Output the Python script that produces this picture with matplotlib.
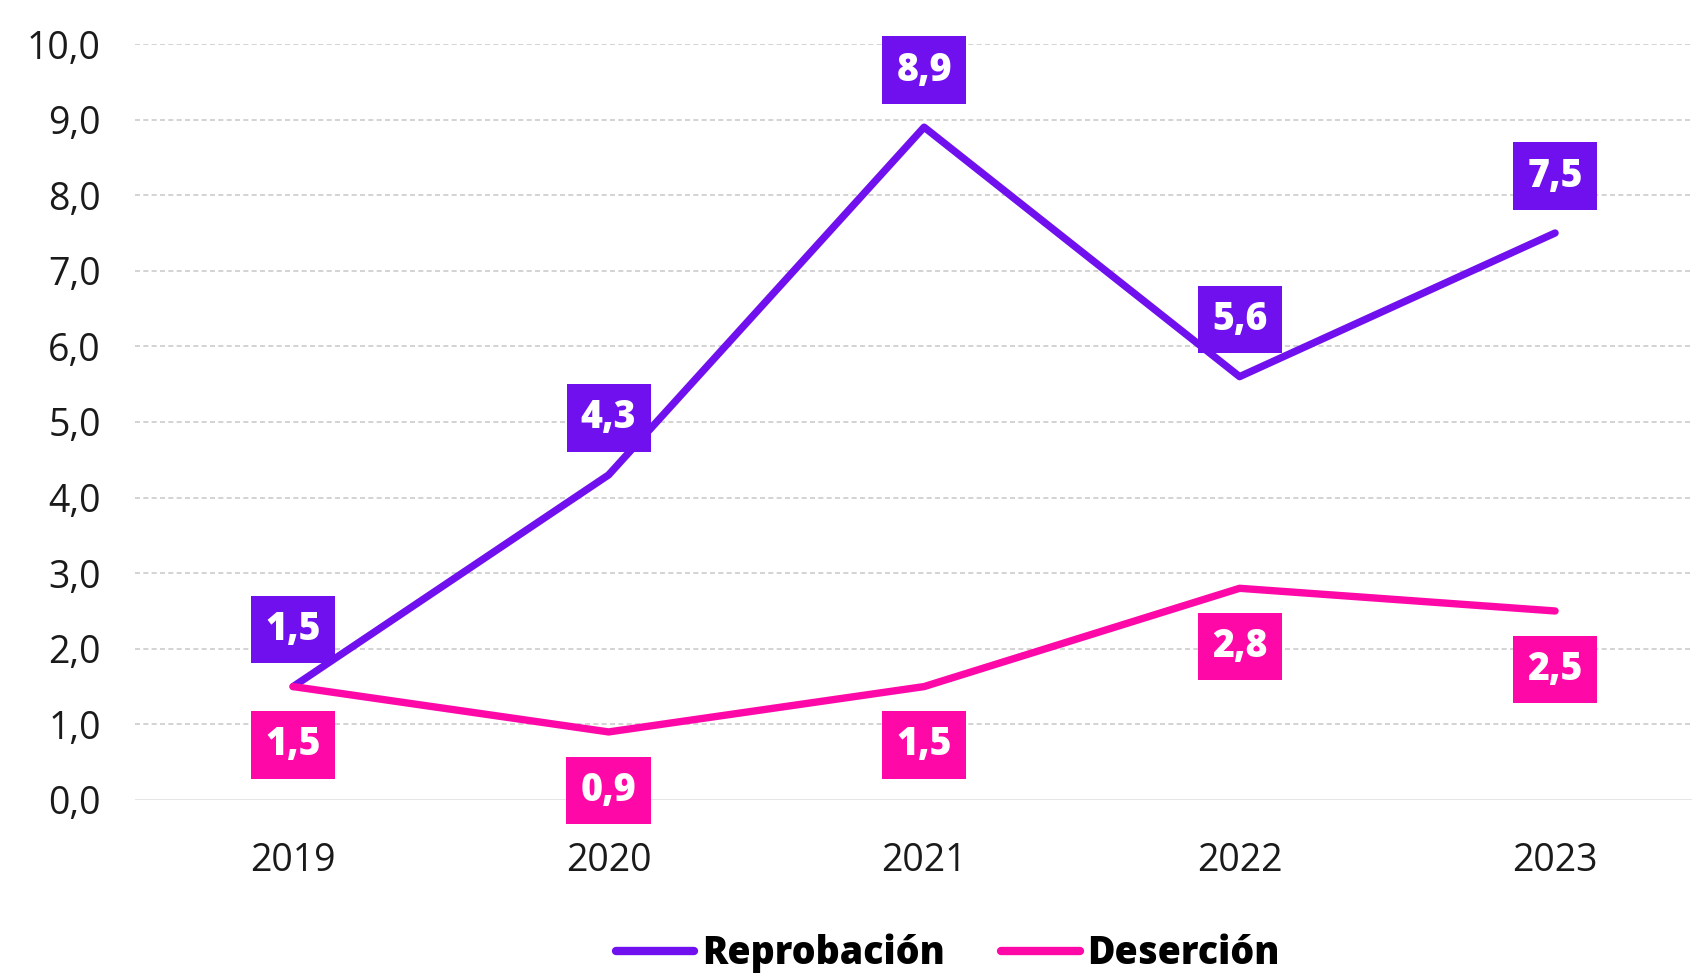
import matplotlib.pyplot as plt
from matplotlib.lines import Line2D

plt.rcParams['font.family'] = ['Open Sans', 'DejaVu Sans']

years = ['2019', '2020', '2021', '2022', '2023']
reprobacion = [1.5, 4.3, 8.9, 5.6, 7.5]
desercion = [1.5, 0.9, 1.5, 2.8, 2.5]

purple = '#7010EE'
pink = '#FF08A8'

fig = plt.figure(figsize=(16.92, 9.80), dpi=100)
ax = fig.add_axes([0.08, 0.1837, 0.92, 0.7714])

x = list(range(len(years)))
ax.plot(x, reprobacion, color=purple, lw=5.3, solid_capstyle='round', zorder=3)
ax.plot(x, desercion, color=pink, lw=5.3, solid_capstyle='round', zorder=3)

# etiquetas de valores
for xi, v in zip(x, reprobacion):
    ax.annotate(f"{v:.1f}".replace('.', ','), (xi, v), xytext=(0, 41), textcoords='offset points',
                ha='center', va='center', color='white', fontsize=27, fontweight='heavy',
                bbox=dict(boxstyle='square,pad=0.38', fc=purple, ec='none'),
                annotation_clip=False, zorder=5)
for xi, v in zip(x, desercion):
    ax.annotate(f"{v:.1f}".replace('.', ','), (xi, v), xytext=(0, -42), textcoords='offset points',
                ha='center', va='center', color='white', fontsize=27, fontweight='heavy',
                bbox=dict(boxstyle='square,pad=0.38', fc=pink, ec='none'),
                annotation_clip=False, zorder=5)

ax.set_xlim(-0.5, 4.434)
ax.set_ylim(0, 10)
ax.set_yticks(range(0, 11))
ax.set_yticklabels([f"{v},0" for v in range(0, 11)])
ax.set_xticks(x)
ax.set_xticklabels(years)
ax.tick_params(axis='y', length=0, pad=25, labelsize=27, labelcolor='#1a1a1a')
ax.tick_params(axis='x', length=0, pad=30, labelsize=27, labelcolor='#1a1a1a')

for s in ax.spines.values():
    s.set_visible(False)
for v in range(1, 11):
    ax.axhline(v, color='#cccccc', lw=1.2, ls=(0, (3, 2)), zorder=1)
ax.axhline(0, color='#e2e2e2', lw=2, zorder=1)

handles = [Line2D([0], [0], color=purple, lw=6, solid_capstyle='round'),
           Line2D([0], [0], color=pink, lw=6, solid_capstyle='round')]
fig.legend(handles, ['Reprobación', 'Deserción'], loc='center', bbox_to_anchor=(0.56, 0.027),
           ncol=2, frameon=False, handlelength=2.1, handletextpad=0.2, columnspacing=1.5,
           prop={'size': 27, 'weight': 'heavy'})

plt.savefig('out.png', dpi=100)
plt.close()
